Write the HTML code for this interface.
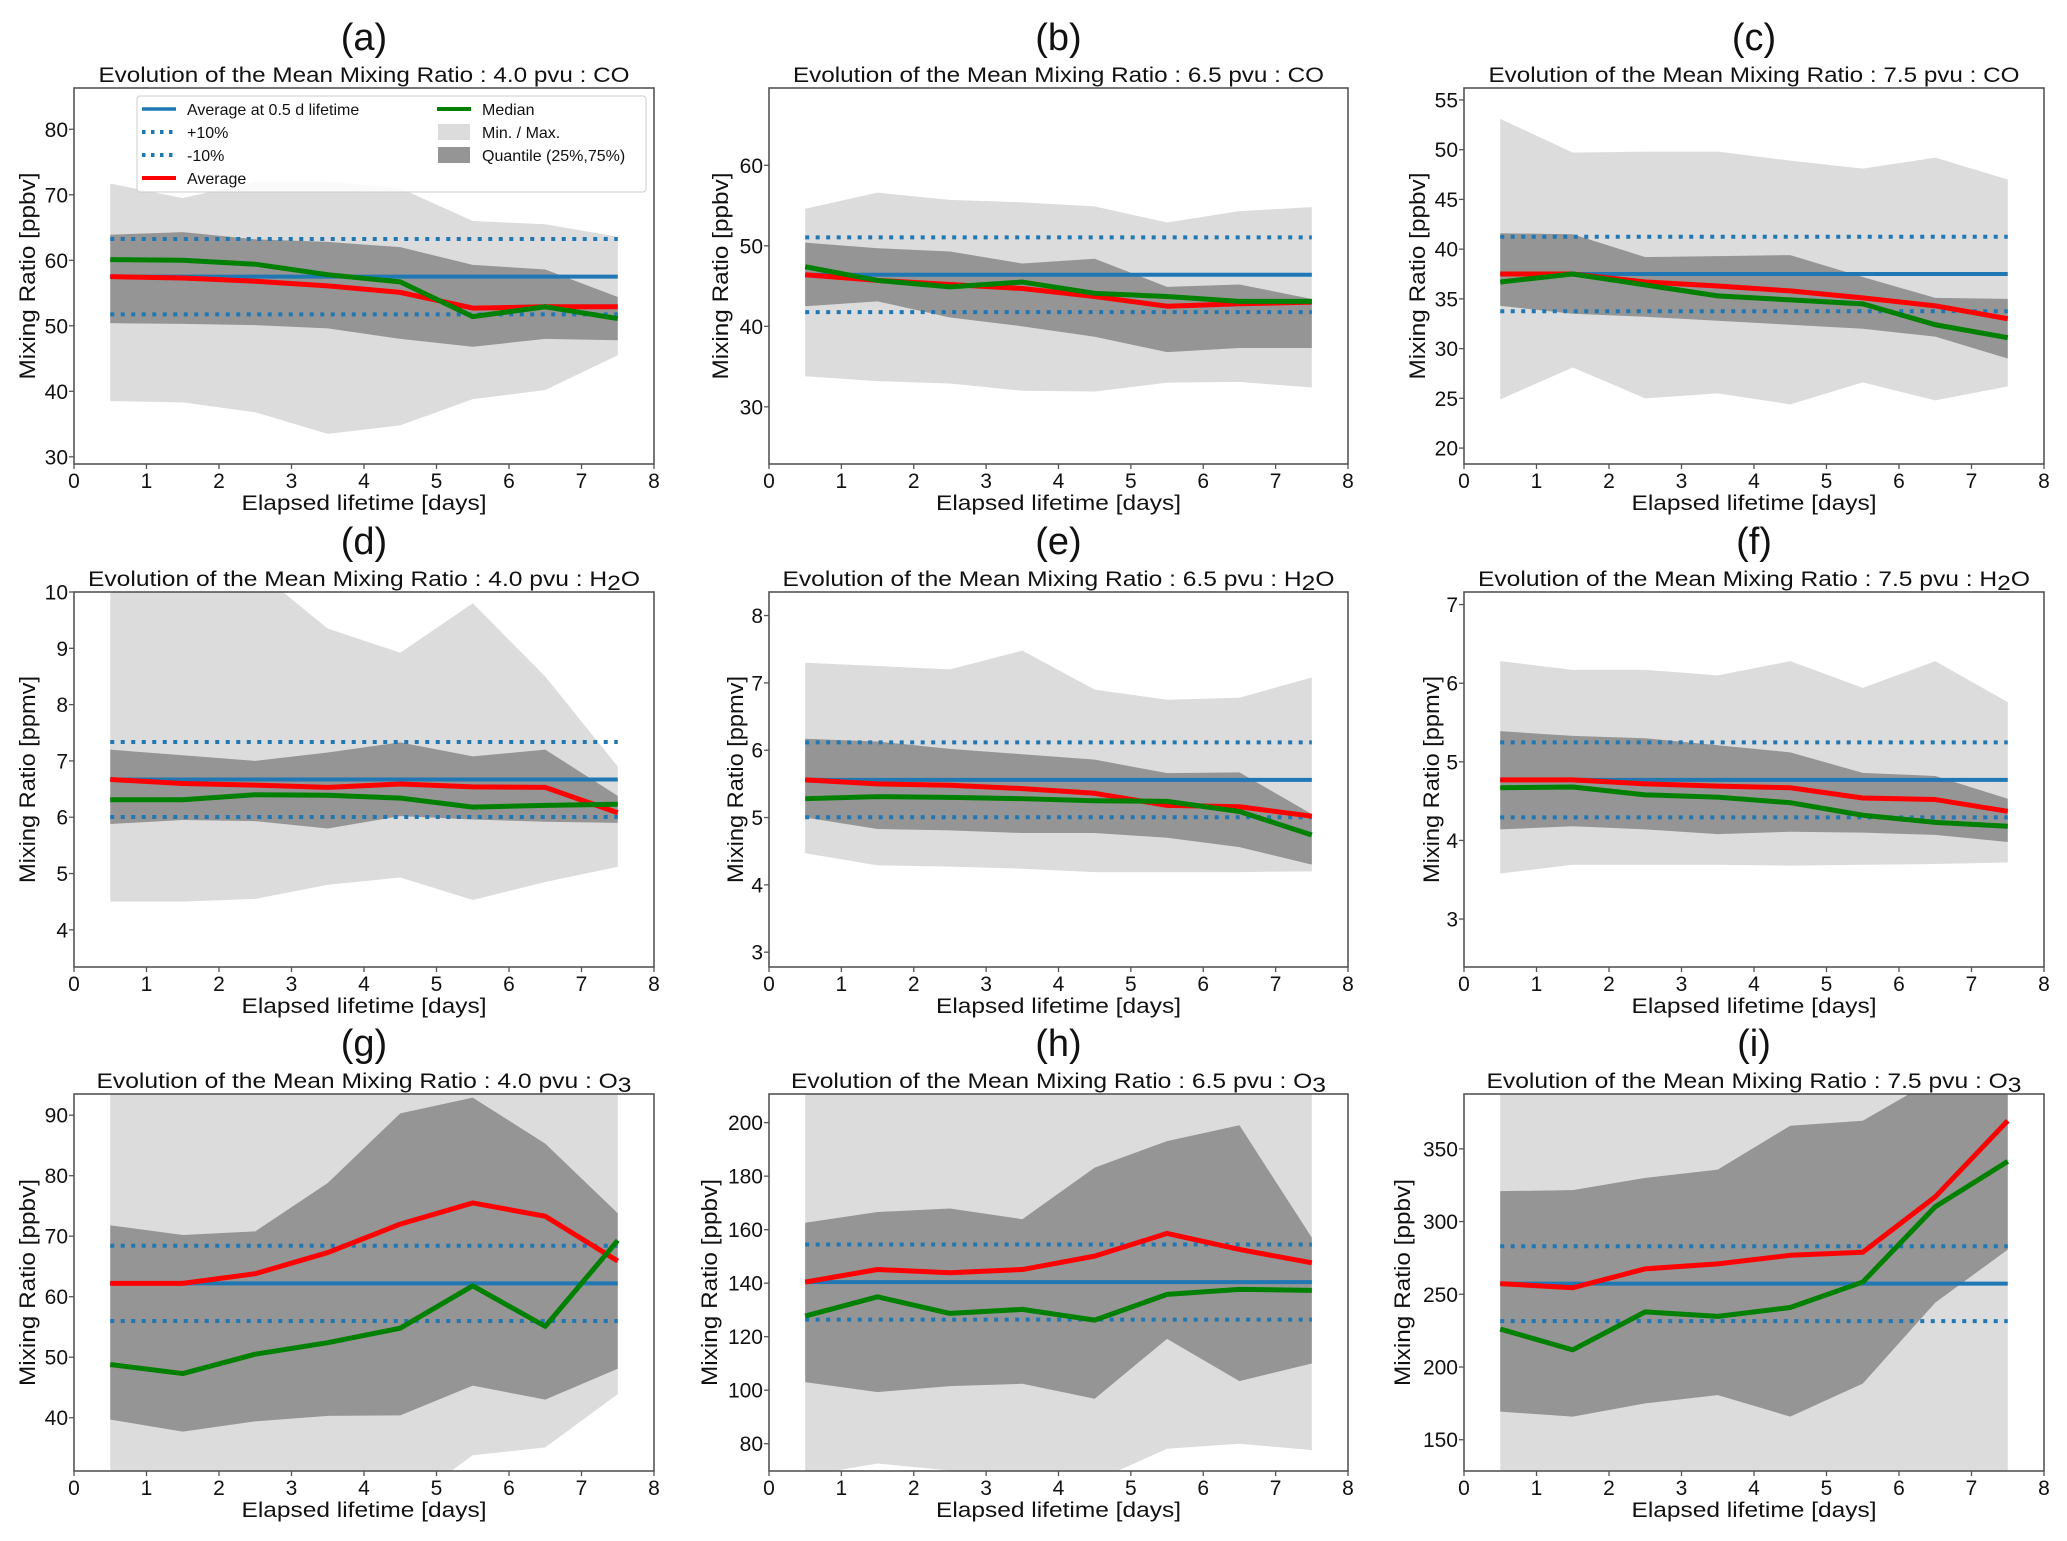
<!DOCTYPE html>
<html><head><meta charset="utf-8"><style>
html,body{margin:0;padding:0;background:#fff;}
svg{display:block;font-family:"Liberation Sans",sans-serif;}
</style></head><body>
<svg id="fig" width="2067" height="1541" viewBox="0 0 2067 1541" xmlns="http://www.w3.org/2000/svg"></svg>
<script>
const xDays=[0.5,1.5,2.5,3.5,4.5,5.5,6.5,7.5];
const xTicks=[0,1,2,3,4,5,6,7,8];
// (a) CO 4.0
const aMin=[38.5,38.3,36.8,33.5,34.8,38.8,40.2,45.5];
const aMax=[71.7,69.5,72,72,71,66,65.5,63.6];
const aQ25=[50.4,50.3,50.1,49.6,48,46.8,48,47.8];
const aQ75=[63.9,64.3,63.2,62.8,62,59.3,58.6,54.4];
const aMean=[57.5,57.3,56.8,56.1,55.1,52.7,52.9,52.9];
const aMedian=[60.1,60,59.4,57.8,56.7,51.4,52.9,51.1];
const aYTicks=[30,40,50,60,70,80];
// (b) CO 6.5
const bMin=[33.8,33.2,32.9,32,31.9,33,33.1,32.4];
const bMax=[54.6,56.6,55.7,55.4,54.9,52.9,54.3,54.8];
const bQ25=[42.5,43.1,41.1,40,38.7,36.8,37.3,37.3];
const bQ75=[50.4,49.7,49.3,47.8,48.4,44.9,45.2,43.4];
const bMean=[46.4,45.7,45.2,44.7,43.7,42.5,42.8,43.0];
const bMedian=[47.4,45.7,44.9,45.5,44.1,43.7,43.1,43.1];
const bYTicks=[30,40,50,60];
// (c) CO 7.5
const cMin=[24.9,28.1,25,25.5,24.4,26.6,24.8,26.2];
const cMax=[53.1,49.7,49.8,49.8,48.9,48.1,49.2,47];
const cQ25=[34.3,33.5,33.2,32.8,32.4,32,31.2,29];
const cQ75=[41.6,41.5,39.2,39.3,39.4,37.2,35.1,35];
const cMean=[37.5,37.5,36.7,36.3,35.8,35.1,34.3,33];
const cMedian=[36.7,37.5,36.4,35.3,34.9,34.5,32.4,31.1];
const cYTicks=[20,25,30,35,40,45,50,55];
// (d) H2O 4.0
const dMin=[4.5,4.5,4.55,4.8,4.93,4.53,4.85,5.12];
const dMax=[10.5,10.5,10.4,9.35,8.92,9.8,8.5,6.9];
const dQ25=[5.88,5.95,5.93,5.8,6.02,5.96,5.92,5.9];
const dQ75=[7.2,7.1,7.0,7.15,7.33,7.08,7.2,6.38];
const dMean=[6.67,6.6,6.57,6.53,6.59,6.54,6.53,6.08];
const dMedian=[6.31,6.31,6.4,6.39,6.34,6.18,6.21,6.23];
const dYTicks=[4,5,6,7,8,9,10];
// (e) H2O 6.5
const eMin=[4.47,4.29,4.27,4.24,4.19,4.19,4.19,4.2];
const eMax=[7.3,7.25,7.2,7.48,6.9,6.75,6.78,7.08];
const eQ25=[5.0,4.83,4.81,4.77,4.77,4.7,4.56,4.3];
const eQ75=[6.17,6.13,6.02,5.94,5.86,5.66,5.67,5.05];
const eMean=[5.56,5.5,5.48,5.43,5.36,5.18,5.16,5.02];
const eMedian=[5.28,5.31,5.3,5.28,5.25,5.24,5.09,4.74];
const eYTicks=[3,4,5,6,7,8];
// (f) H2O 7.5
const fMin=[3.58,3.69,3.69,3.69,3.68,3.69,3.7,3.72];
const fMax=[6.28,6.17,6.17,6.1,6.28,5.94,6.28,5.76];
const fQ25=[4.14,4.18,4.14,4.08,4.11,4.1,4.07,3.98];
const fQ75=[5.39,5.33,5.3,5.21,5.12,4.86,4.82,4.53];
const fMean=[4.77,4.77,4.72,4.69,4.67,4.54,4.52,4.37];
const fMedian=[4.67,4.68,4.58,4.55,4.48,4.32,4.23,4.18];
const fYTicks=[3,4,5,6,7];
// (g) O3 4.0
const gMin=[25,25,25,25,25.1,33.8,35.1,43.9];
const gMax=[100,100,100,100,100,100,100,100];
const gQ25=[39.7,37.7,39.4,40.3,40.4,45.3,43,48.1];
const gQ75=[71.8,70.2,70.8,78.8,90.3,92.9,85.3,73.8];
const gMean=[62.2,62.2,63.8,67.3,72,75.5,73.3,65.9];
const gMedian=[48.8,47.3,50.5,52.4,54.8,61.8,55.1,69.3];
const gYTicks=[40,50,60,70,80,90];
// (h) O3 6.5
const hMin=[68,72.6,70,68,66,78.1,80,77.6];
const hMax=[230,230,230,230,230,230,230,230];
const hQ25=[103,99.3,101.5,102.4,96.8,119.2,103.4,110];
const hQ75=[162.6,166.6,167.9,163.9,183.2,193.1,199,157];
const hMean=[140.4,145.1,143.9,145.1,150.1,158.6,152.6,147.6];
const hMedian=[127.7,134.9,128.7,130.2,126.2,135.8,137.7,137.3];
const hYTicks=[80,100,120,140,160,180,200];
// (i) O3 7.5
const iMin=[110,110,110,110,110,110,110,110];
const iMax=[420,420,420,420,420,420,420,420];
const iQ25=[169.3,165.9,175,180.7,165.9,188.6,244.3,280.7];
const iQ75=[320.9,321.6,330,335.7,365.9,369.3,398,400];
const iMean=[257.3,254.5,267.5,270.9,276.8,278.9,317,369.3];
const iMedian=[226.1,211.8,237.9,234.8,240.9,258.4,310.2,341.4];
const iYTicks=[150,200,250,300,350];

const NS="http://www.w3.org/2000/svg";
const svg=document.getElementById('fig');
function mk(tag,attrs,parent){const e=document.createElementNS(NS,tag);for(const k in attrs)e.setAttribute(k,attrs[k]);(parent||svg).appendChild(e);return e;}

const cols=[{l:74,r:654},{l:769,r:1348},{l:1464,r:2044}];
const rows=[{t:88,b:464},{t:592,b:967},{t:1094,b:1471}];
const panels=[
 {id:'a',col:0,row:0,ylim:[28.9,86.3],min:aMin,max:aMax,q25:aQ25,q75:aQ75,mean:aMean,med:aMedian,yt:aYTicks,sp:'CO',pv:'4.0',unit:'ppbv',yl:47},
 {id:'b',col:1,row:0,ylim:[22.9,69.6],min:bMin,max:bMax,q25:bQ25,q75:bQ75,mean:bMean,med:bMedian,yt:bYTicks,sp:'CO',pv:'6.5',unit:'ppbv',yl:49},
 {id:'c',col:2,row:0,ylim:[18.4,56.2],min:cMin,max:cMax,q25:cQ25,q75:cQ75,mean:cMean,med:cMedian,yt:cYTicks,sp:'CO',pv:'7.5',unit:'ppbv',yl:47},
 {id:'d',col:0,row:1,ylim:[3.34,10.0],min:dMin,max:dMax,q25:dQ25,q75:dQ75,mean:dMean,med:dMedian,yt:dYTicks,sp:'H2O',pv:'4.0',unit:'ppmv',yl:47},
 {id:'e',col:1,row:1,ylim:[2.78,8.35],min:eMin,max:eMax,q25:eQ25,q75:eQ75,mean:eMean,med:eMedian,yt:eYTicks,sp:'H2O',pv:'6.5',unit:'ppmv',yl:34},
 {id:'f',col:2,row:1,ylim:[2.39,7.16],min:fMin,max:fMax,q25:fQ25,q75:fQ75,mean:fMean,med:fMedian,yt:fYTicks,sp:'H2O',pv:'7.5',unit:'ppmv',yl:33},
 {id:'g',col:0,row:2,ylim:[31.2,93.5],min:gMin,max:gMax,q25:gQ25,q75:gQ75,mean:gMean,med:gMedian,yt:gYTicks,sp:'O3',pv:'4.0',unit:'ppbv',yl:47},
 {id:'h',col:1,row:2,ylim:[69.8,210.7],min:hMin,max:hMax,q25:hQ25,q75:hQ75,mean:hMean,med:hMedian,yt:hYTicks,sp:'O3',pv:'6.5',unit:'ppbv',yl:60},
 {id:'i',col:2,row:2,ylim:[128.5,387.7],min:iMin,max:iMax,q25:iQ25,q75:iQ75,mean:iMean,med:iMedian,yt:iYTicks,sp:'O3',pv:'7.5',unit:'ppbv',yl:62}
];

panels.forEach(p=>{
  const L=cols[p.col].l,R=cols[p.col].r,T=rows[p.row].t,B=rows[p.row].b;
  const xs=v=>L+(v-0)/(8-0)*(R-L);
  const ys=v=>B-(v-p.ylim[0])/(p.ylim[1]-p.ylim[0])*(B-T);
  const g=mk('g',{});
  
  
  const cp=mk('clipPath',{id:'clip'+p.id},g);
  mk('rect',{x:L,y:T,width:R-L,height:B-T},cp);
  const plot=mk('g',{'clip-path':'url(#clip'+p.id+')'},g);
  function band(lo,hi,fill,name){
    let d='M'+xDays.map((x,i)=>xs(x)+','+ys(hi[i])).join(' L');
    d+=' L'+xDays.slice().reverse().map((x,j)=>{const i=xDays.length-1-j;return xs(x)+','+ys(lo[i]);}).join(' L')+' Z';
    const e=mk('path',{d:d,fill:fill},plot);
    
    
  }
  band(p.min,p.max,'#dcdcdc','minmax-band');
  band(p.q25,p.q75,'#959595','quantile-band');
  const ref=p.mean[0];
  function hline(v,dash,name){
    const e=mk('line',{x1:xs(xDays[0]),x2:xs(xDays[xDays.length-1]),y1:ys(v),y2:ys(v),stroke:'#1f77b4','stroke-width':4,'stroke-dasharray':dash?'4 6.5':'none'},plot);
    
    
  }
  hline(ref,false,'reference-average-line');
  hline(ref*1.1,true,'plus-10-percent-line');
  hline(ref*0.9,true,'minus-10-percent-line');
  function series(vals,color,name){
    const e=mk('polyline',{points:xDays.map((x,i)=>xs(x)+','+ys(vals[i])).join(' '),fill:'none',stroke:color,'stroke-width':5,'stroke-linejoin':'round'},plot);
    
    
  }
  series(p.mean,'#ff0000','average-line');
  series(p.med,'#008000','median-line');
  const fr=mk('rect',{x:L,y:T,width:R-L,height:B-T,fill:'none',stroke:'#555','stroke-width':1.6},g);
  
  
  xTicks.forEach(t=>{
    mk('line',{x1:xs(t),x2:xs(t),y1:B,y2:B+5,stroke:'#555','stroke-width':1.3},g);
    const tx=mk('text',{x:xs(t),y:B+24,'font-size':21,'text-anchor':'middle',fill:'#111'},g);
    
    
    tx.textContent=t;
  });
  p.yt.forEach(t=>{
    mk('line',{x1:L-5,x2:L,y1:ys(t),y2:ys(t),stroke:'#555','stroke-width':1.3},g);
    const tx=mk('text',{x:L-6,y:ys(t)+7.5,'font-size':21,'text-anchor':'end',fill:'#111'},g);
    
    
    tx.textContent=t;
  });
  const xl=mk('text',{x:(L+R)/2,y:B+46,'font-size':21,'text-anchor':'middle',fill:'#111',textLength:245,lengthAdjust:'spacingAndGlyphs'},g);
  
  
  xl.textContent='Elapsed lifetime [days]';
  const cy=(T+B)/2, cx=L-p.yl;
  const yl=mk('text',{x:cx,y:cy+8,'font-size':22,'text-anchor':'middle',fill:'#111',transform:'rotate(-90 '+cx+' '+cy+')',textLength:207,lengthAdjust:'spacingAndGlyphs'},g);
  
  
  yl.textContent='Mixing Ratio ['+p.unit+']';
  const tt=mk('text',{x:(L+R)/2,y:T-6,'font-size':21,'text-anchor':'middle',fill:'#111',lengthAdjust:'spacingAndGlyphs'},g);
  
  
  const base='Evolution of the Mean Mixing Ratio : '+p.pv+' pvu : ';
  if(p.sp==='CO'){tt.textContent=base+'CO';tt.setAttribute('textLength',531);}
  else{
    tt.setAttribute('textLength',p.sp==='H2O'?552:535);
    const a=mk('tspan',{},tt);a.textContent=base+(p.sp==='H2O'?'H':'O');
    const s=mk('tspan',{dy:4},tt);s.textContent=p.sp==='H2O'?'2':'3';
    if(p.sp==='H2O'){const o=mk('tspan',{dy:-4},tt);o.textContent='O';}
  }
  const lb=mk('text',{x:(L+R)/2,y:T-38,'font-size':38,'text-anchor':'middle',fill:'#111'},g);
  
  
  lb.textContent='('+p.id+')';
});

// Legend in panel (a)
const lg=mk('g',{});


mk('rect',{x:137,y:96,width:509,height:96,rx:3,fill:'#fff','fill-opacity':0.85,stroke:'#ccc','stroke-width':1},lg);
const legItems=[
 {x:142,y:109,type:'line',c:'#1f77b4',dash:false,t:'Average at 0.5 d lifetime'},
 {x:142,y:132,type:'line',c:'#1f77b4',dash:true,t:'+10%'},
 {x:142,y:155,type:'line',c:'#1f77b4',dash:true,t:'-10%'},
 {x:142,y:178,type:'line',c:'#ff0000',dash:false,t:'Average'},
 {x:437,y:109,type:'line',c:'#008000',dash:false,t:'Median'},
 {x:437,y:132,type:'patch',c:'#dcdcdc',t:'Min. / Max.'},
 {x:437,y:155,type:'patch',c:'#959595',t:'Quantile (25%,75%)'}
];
legItems.forEach(it=>{
  const e=mk('g',{},lg);
  
  
  if(it.type==='line') mk('line',{x1:it.x,x2:it.x+34,y1:it.y,y2:it.y,stroke:it.c,'stroke-width':it.c==='#1f77b4'&&!it.dash?3.5:4,'stroke-dasharray':it.dash?'3.5 5.5':'none'},e);
  else mk('rect',{x:it.x+1,y:it.y-8,width:32,height:16,fill:it.c},e);
  const t=mk('text',{x:it.x+45,y:it.y+6,'font-size':16,fill:'#111'},e);
  t.textContent=it.t;
});
</script>
</body></html>
